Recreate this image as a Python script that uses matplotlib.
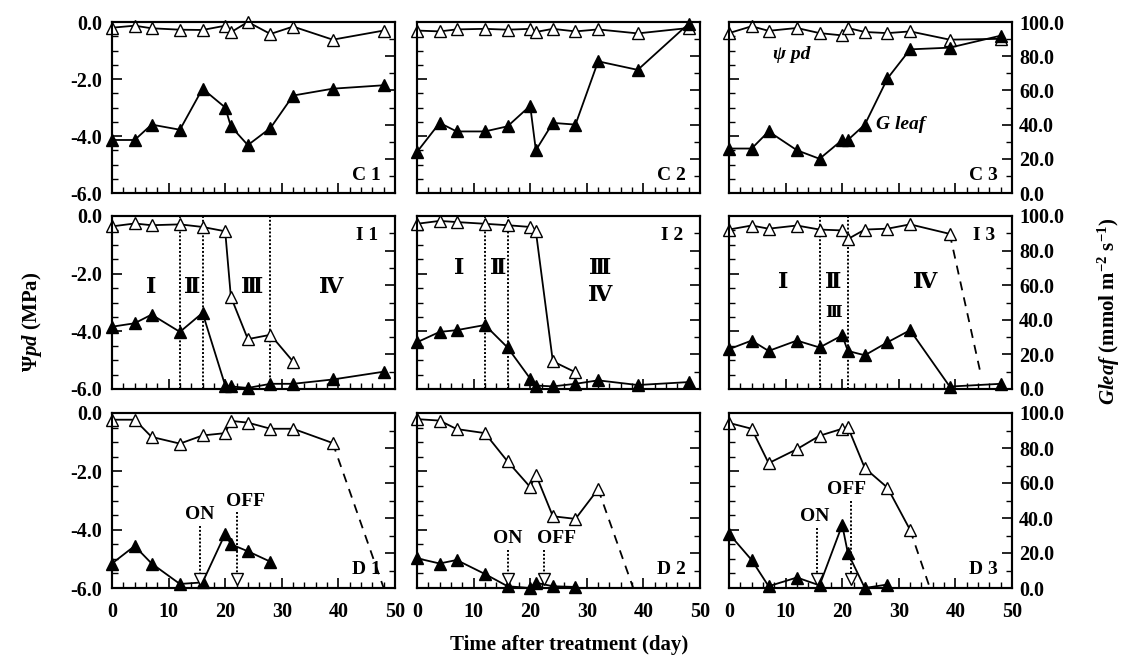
import matplotlib
matplotlib.use("Agg")
import matplotlib.pyplot as plt
from matplotlib.ticker import MultipleLocator, FormatStrFormatter

plt.rcParams.update({
    "font.family": ["Liberation Serif", "DejaVu Serif"],
    "font.weight": "bold",
    "mathtext.fontset": "custom",
    "mathtext.rm": "Liberation Serif:bold",
    "mathtext.it": "Liberation Serif:italic:bold",
    "mathtext.bf": "Liberation Serif:bold",
    "axes.linewidth": 1.5,
})

# sampling days (day after treatment)
DAYS = [0, 4, 7, 12, 16, 20, 21, 24, 28, 32, 39, 48]

# control plants: predawn water potential (MPa) and leaf conductance (mmol m-2 s-1)
C1_PSI = [-0.20, -0.13, -0.22, -0.27, -0.28, -0.13, -0.36, 0.0, -0.42, -0.16, -0.62, -0.30]
C1_G   = [31, 31, 40, 37, 61, 50, 39, 28, 38, 57, 61, 63]
C2_PSI = [-0.30, -0.33, -0.26, -0.24, -0.27, -0.24, -0.35, -0.24, -0.33, -0.26, -0.40, -0.21]
C2_G   = [24, 41, 36, 36, 39, 51, 25, 41, 40, 77, 72, 99]
C3_PSI = [-0.39, -0.15, -0.31, -0.21, -0.39, -0.47, -0.21, -0.35, -0.39, -0.33, -0.62, -0.59]
C3_G   = [26, 26, 36, 25, 20, 31, 31, 40, 67, 84, 85, 92]

# irrigation-stopped plants
I1_PSI = [-0.36, -0.26, -0.32, -0.29, -0.38, -0.53, -2.80, -4.27, -4.12, -5.05]
I1_G   = [36, 38, 43, 33, 44, 2, 1.5, 0.6, 3, 3, 5.5, 10]
I2_PSI = [-0.27, -0.17, -0.21, -0.27, -0.32, -0.38, -0.53, -5.04, -5.42]
I2_G   = [27, 33, 34, 37, 24, 6, 2, 1.5, 3, 5, 2.3, 4]
I3_PSI = [-0.47, -0.33, -0.44, -0.33, -0.47, -0.50, -0.80, -0.47, -0.44, -0.29, -0.62]
I3_G   = [23, 28, 22, 28, 24, 31, 22, 19.5, 27, 34, 1.4, 3]

# drought plants
D1_PSI = [-0.23, -0.23, -0.82, -1.05, -0.77, -0.69, -0.27, -0.33, -0.54, -0.54, -1.03]
D1_G   = [14, 24, 14, 2.3, 3.2, 31, 25, 21, 15]
D2_PSI = [-0.21, -0.26, -0.55, -0.69, -1.66, -2.54, -2.11, -3.54, -3.63, -2.61]
D2_G   = [17, 14, 16, 8, 1, 0, 3, 1, 0.6]
D3_PSI = [-0.34, -0.54, -1.72, -1.24, -0.78, -0.54, -0.48, -1.89, -2.56, -4.01]
D3_G   = [31, 16, 1, 6, 1.5, 36, 20, 0, 2]

# dashed extrapolation of psi to death: (day, psi) end points
I3_EXTRAP = ([39, 44.5], [-0.62, -5.5])
D1_EXTRAP = ([39, 48.0], [-1.03, -6.0])
D2_EXTRAP = ([32, 38.2], [-2.61, -6.0])
D3_EXTRAP = ([32, 35.5], [-4.01, -6.0])

# phase boundaries (day)
I1_PHASES = [12, 16, 28]
I2_PHASES = [12, 16]
I3_PHASES = [16, 21]

# irrigation ON / OFF days and marker level (Gleaf units)
D1_ONOFF = [15.5, 22.0]
D2_ONOFF = [16.1, 22.5]
D3_ONOFF = [15.6, 21.6]
ONOFF_G = 5

COL_LEFT = [112 / 1127, 417 / 1127, 729 / 1127]
COL_W = 283 / 1127
ROW_BOX = [(1 - 193 / 663, 171 / 663), (1 - 389 / 663, 173 / 663), (1 - 588 / 663, 175 / 663)]

LW = 1.3
MS = 8.5
TICK_FS = 14.5


def style_axes(ax, ax2, row, col):
    ax.set_xlim(0, 50)
    ax.set_ylim(-6, 0)
    ax2.set_ylim(0, 100)
    ax.xaxis.set_major_locator(MultipleLocator(10))
    ax.xaxis.set_minor_locator(MultipleLocator(2))
    ax.yaxis.set_major_locator(MultipleLocator(2))
    ax.yaxis.set_minor_locator(MultipleLocator(0.5))
    ax2.yaxis.set_major_locator(MultipleLocator(20))
    ax2.yaxis.set_minor_locator(MultipleLocator(10))
    ax.yaxis.set_major_formatter(FormatStrFormatter("%.1f"))
    ax2.yaxis.set_major_formatter(FormatStrFormatter("%.1f"))

    ax.tick_params(which="both", direction="in", top=False, right=False, labelsize=TICK_FS)
    ax.tick_params(which="major", length=7, width=1.2)
    ax.tick_params(which="minor", length=4, width=1.0)
    ax.tick_params(axis="y", pad=7)
    ax.tick_params(axis="x", pad=10)
    ax2.tick_params(which="both", direction="in", labelsize=TICK_FS, pad=5)
    ax2.tick_params(which="major", length=7, width=1.2)
    ax2.tick_params(which="minor", length=4, width=1.0)

    if col != 0:
        ax.tick_params(labelleft=False)
    if col != 2:
        ax2.tick_params(labelright=False)
    if row != 2:
        ax.tick_params(labelbottom=False)


def draw_series(ax, ax2, psi, g, extrap=None):
    ax.plot(DAYS[:len(psi)], psi, color="black", lw=LW, marker="^", ms=MS,
            mfc="white", mec="black", mew=1.0, clip_on=False, zorder=3)
    if extrap is not None:
        ax.plot(extrap[0], extrap[1], color="black", lw=LW, ls=(0, (5, 4)), zorder=2)
    ax2.plot(DAYS[:len(g)], g, color="black", lw=LW, marker="^", ms=MS,
             mfc="black", mec="black", mew=1.0, clip_on=False, zorder=3)


fig = plt.figure(figsize=(11.27, 6.63), dpi=100)

panels = [
    ("C 1", C1_PSI, C1_G, None), ("C 2", C2_PSI, C2_G, None), ("C 3", C3_PSI, C3_G, None),
    ("I 1", I1_PSI, I1_G, None), ("I 2", I2_PSI, I2_G, None), ("I 3", I3_PSI, I3_G, I3_EXTRAP),
    ("D 1", D1_PSI, D1_G, D1_EXTRAP), ("D 2", D2_PSI, D2_G, D2_EXTRAP), ("D 3", D3_PSI, D3_G, D3_EXTRAP),
]

axes = {}
for i, (name, psi, g, extrap) in enumerate(panels):
    row, col = divmod(i, 3)
    bottom, height = ROW_BOX[row]
    ax = fig.add_axes([COL_LEFT[col], bottom, COL_W, height])
    ax2 = ax.twinx()
    style_axes(ax, ax2, row, col)
    draw_series(ax, ax2, psi, g, extrap)
    if row == 1:
        ax.text(0.94, 0.935, name, transform=ax.transAxes, ha="right", va="top", fontsize=14)
    else:
        ax.text(0.95, 0.055, name, transform=ax.transAxes, ha="right", va="bottom", fontsize=14)
    axes[name] = (ax, ax2)

# curve names in C3
ax, ax2 = axes["C 3"]
ax.text(7.8, -1.15, "ψ pd", style="italic", fontsize=14, ha="left", va="center")
ax.text(26, -3.6, "G leaf", style="italic", fontsize=14, ha="left", va="center")

# phase boundaries and roman numerals
roman = {
    "I 1": (I1_PHASES, [("Ⅰ", 6.9, -2.5, 16), ("Ⅱ", 14.1, -2.5, 16), ("Ⅲ", 24.8, -2.5, 16), ("Ⅳ", 38.7, -2.5, 16)]),
    "I 2": (I2_PHASES, [("Ⅰ", 7.4, -1.83, 16), ("Ⅱ", 14.3, -1.83, 16), ("Ⅲ", 32.4, -1.83, 16), ("Ⅳ", 32.4, -2.76, 16)]),
    "I 3": (I3_PHASES, [("Ⅰ", 9.5, -2.32, 16), ("Ⅱ", 18.4, -2.32, 16), ("Ⅲ", 18.4, -3.37, 12), ("Ⅳ", 34.7, -2.32, 16)]),
}
for name, (phases, labels) in roman.items():
    ax, ax2 = axes[name]
    for d in phases:
        ax.axvline(d, color="black", lw=1.4, ls=(0, (1.0, 1.0)), zorder=1)
    for txt, x, y, fs in labels:
        ax.text(x, y, txt, fontsize=fs, ha="center", va="center")

# irrigation ON / OFF marks in drought panels
onoff = {
    "D 1": (D1_ONOFF, [-3.86, -3.40], [15.5, 23.6]),
    "D 2": (D2_ONOFF, [-4.69, -4.69], [16.1, 24.7]),
    "D 3": (D3_ONOFF, [-3.93, -3.00], [15.2, 20.7]),
}
for name, (days, tops, text_x) in onoff.items():
    ax, ax2 = axes[name]
    ax2.plot(days, [ONOFF_G] * len(days), ls="none", marker="v", ms=MS,
             mfc="white", mec="black", mew=1.0, clip_on=False, zorder=4)
    for d, top, tx, txt in zip(days, tops, text_x, ["ON", "OFF"]):
        ax.plot([d, d], [top, -5.5], color="black", lw=1.4, ls=(0, (1.0, 1.0)), zorder=1)
        ax.text(tx, top + 0.08, txt, fontsize=14, ha="center", va="bottom")

fig.text(0.028, 0.515, r"$\mathit{Ψpd}$ (MPa)", rotation=90, ha="center", va="center", fontsize=15)
fig.text(0.984, 0.53, r"$\mathit{Gleaf}$ (mmol m$^{-2}$ s$^{-1}$)", rotation=90,
         ha="center", va="center", fontsize=15)
fig.text(0.505, 0.027, "Time after treatment (day)", ha="center", va="center", fontsize=15)

fig.savefig("out.png", dpi=100)
